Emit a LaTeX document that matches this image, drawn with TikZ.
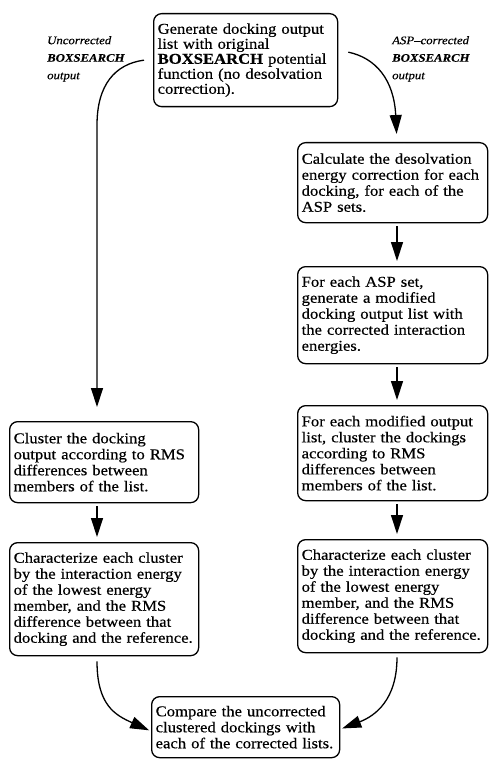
\documentclass[tikz,border=0pt]{standalone}
\usepackage{fontspec}
\setmainfont{Liberation Serif}[FakeStretch=1.11, FakeBold=0.4]
\usetikzlibrary{arrows.meta}
\hyphenpenalty=10000
\exhyphenpenalty=10000
\begin{document}
\begin{tikzpicture}[x=1pt,y=-1pt,
  box/.style={draw, line width=1.3pt, rounded corners=8pt, align=left, anchor=north west,
    inner xsep=4pt, inner ysep=0pt, font=\fontsize{15}{16}\selectfont},
  arr/.style={line width=1.3pt, -{Triangle[length=19pt,width=12pt]}},
  lab/.style={align=left, anchor=north west, inner sep=0pt, font=\fontsize{11.5}{17.5}\selectfont\itshape}]
\useasboundingbox[fill=white] (0,0) rectangle (497,759);
\coordinate (colL) at (97,0);
\coordinate (colR) at (397,0);

\node[box, text width=176pt, minimum height=93pt, font=\fontsize{15}{15}\selectfont] (top) at (153,13)
  {Generate docking output\\ list with original\\ \textbf{BOXSEARCH} potential\\ function (no desolvation\\ correction).};

\node[lab] (labL) at (47,36) {Uncorrected\\ \textbf{BOXSEARCH}\\ output};
\node[lab] (labR) at (392,36) {ASP--corrected\\ \textbf{BOXSEARCH}\\ output};

\node[box, text width=182pt, minimum height=80pt] (R1) at (297,142)
  {Calculate the desolvation\\ energy correction for each\\ docking, for each of the\\ ASP sets.};
\node[box, text width=182pt, minimum height=97pt] (R2) at (297,266)
  {For each ASP set,\\ generate a modified\\ docking output list with\\ the corrected interaction\\ energies.};
\node[box, text width=182pt, minimum height=95pt] (R3) at (297,405)
  {For each modified output\\ list, cluster the dockings\\ according to RMS\\ differences between\\ members of the list.};
\node[box, text width=182pt, minimum height=113pt] (R4) at (297,539)
  {Characterize each cluster\\ by the interaction energy\\ of the lowest energy\\ member, and the RMS\\ difference between that\\ docking and the reference.};

\node[box, text width=181pt, minimum height=81pt] (L1) at (9,421)
  {Cluster the docking\\ output according to RMS\\ differences between\\ members of the list.};
\node[box, text width=181pt, minimum height=113pt] (L2) at (9,542)
  {Characterize each cluster\\ by the interaction energy\\ of the lowest energy\\ member, and the RMS\\ difference between that\\ docking and the reference.};

\node[box, text width=180pt, minimum height=61pt] (B) at (151,696)
  {Compare the uncorrected\\ clustered dockings with\\ each of the corrected lists.};

% connectors
\draw[arr, shorten >=14pt] ([xshift=-9pt]top.west) .. controls (115,64) and (97,85) .. (97,125) -- (L1.north -| colL);
\draw[arr, shorten >=8pt] ([shift={(10pt,8pt)}]top.east) .. controls (376,58) and (394,80) .. (R1.north -| colR);

\draw[arr, shorten <=3pt, shorten >=5pt] (R1.south -| colR) -- (R2.north -| colR);
\draw[arr, shorten <=3pt, shorten >=5pt] (R2.south -| colR) -- (R3.north -| colR);
\draw[arr, shorten <=3pt, shorten >=5pt] (R3.south -| colR) -- (R4.north -| colR);
\draw[arr, shorten <=3pt, shorten >=5pt] (L1.south -| colL) -- (L2.north -| colL);

\draw[arr, shorten <=5pt, shorten >=2pt] (L2.south -| colL) .. controls (97,705) and (115,715) .. ([yshift=-4pt]B.west);
\draw[arr, shorten <=4pt, shorten >=2pt] (R4.south -| colR) .. controls (397,700) and (375,716) .. ([yshift=-2pt]B.east);
\end{tikzpicture}
\end{document}
